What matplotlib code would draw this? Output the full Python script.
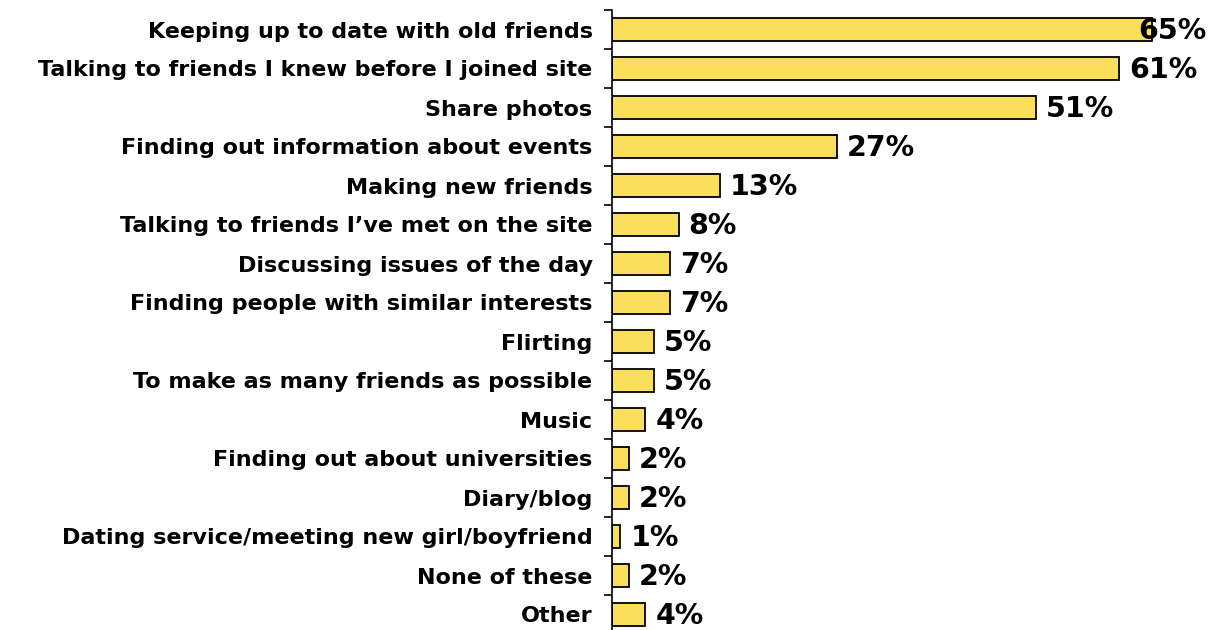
import matplotlib.pyplot as plt
import numpy as np

# Reasons for using social networking sites (% of respondents)
categories = [
    "Keeping up to date with old friends",
    "Talking to friends I knew before I joined site",
    "Share photos",
    "Finding out information about events",
    "Making new friends",
    "Talking to friends I\u2019ve met on the site",
    "Discussing issues of the day",
    "Finding people with similar interests",
    "Flirting",
    "To make as many friends as possible",
    "Music",
    "Finding out about universities",
    "Diary/blog",
    "Dating service/meeting new girl/boyfriend",
    "None of these",
    "Other",
]
values = [65, 61, 51, 27, 13, 8, 7, 7, 5, 5, 4, 2, 2, 1, 2, 4]

bar_color = "#F9DF5B"
x_max = 73.0

fig = plt.figure(figsize=(12.19, 6.30), dpi=100)
ax = fig.add_axes([612 / 1219, -4 / 630, 1 - 612 / 1219, 624 / 630])

y = np.arange(len(categories))
ax.barh(y, values, height=0.6, color=bar_color, edgecolor="black", linewidth=1.3)

ax.set_xlim(0, x_max)
ax.set_ylim(len(categories) - 0.5, -0.5)

# ticks sit between the categories, labels centred on each bar
ax.set_yticks(np.arange(len(categories) + 1) - 0.5)
ax.set_yticklabels([])
ax.tick_params(axis="y", which="major", direction="out", length=6, width=1.2)
ax.set_yticks(y, minor=True)
ax.set_yticklabels(categories, minor=True, fontsize=16, fontweight="bold")
ax.tick_params(axis="y", which="minor", length=0, pad=14)
ax.set_xticks([])

for side in ["top", "right", "bottom"]:
    ax.spines[side].set_visible(False)
ax.spines["left"].set_linewidth(1.2)

for yi, v in zip(y, values):
    if v + 1.2 + 8 > x_max:
        # no room on the right: tuck the label against the edge
        ax.text(x_max - 1.5, yi + 0.05, f"{v}%", ha="right", va="center",
                fontsize=20.5, fontweight="bold")
    else:
        ax.text(v + 1.2, yi + 0.05, f"{v}%", ha="left", va="center",
                fontsize=20.5, fontweight="bold")

fig.savefig("out.png", dpi=100)
